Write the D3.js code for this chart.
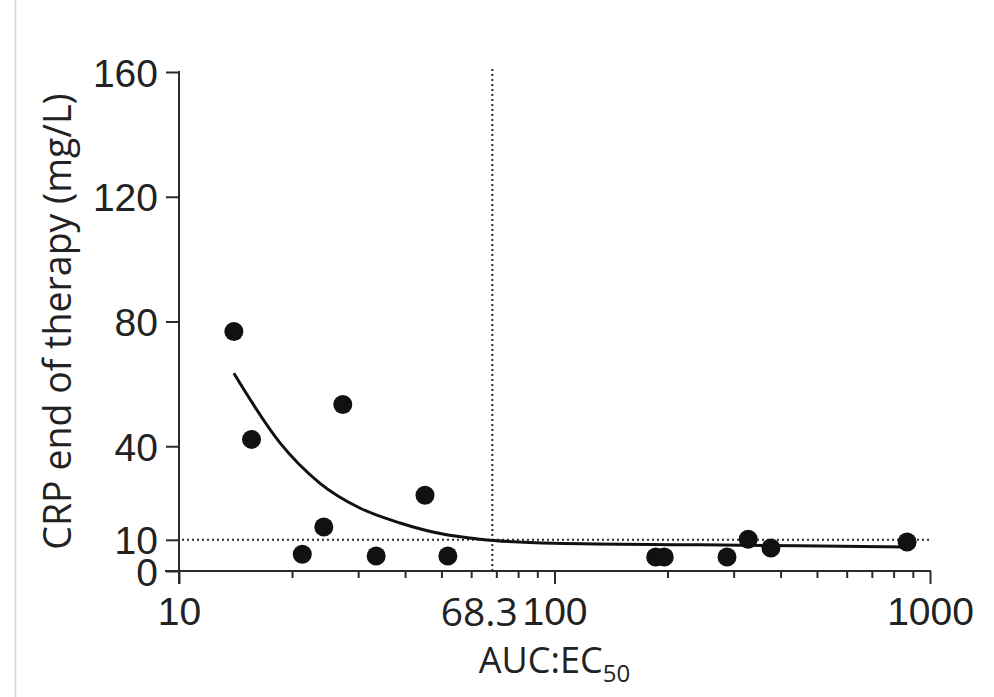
<!DOCTYPE html>
<html>
<head>
<meta charset="utf-8">
<script src="https://cdn.jsdelivr.net/npm/d3@7"></script>
<style>
  html, body { margin: 0; padding: 0; background: #fff; }
  svg { display: block; font-family: "Open Sans", sans-serif; }
</style>
</head>
<body>
<svg id="chart" width="994" height="697"></svg>
<script>
// Observed points (AUC:EC50, CRP end of therapy mg/L)
const aucValues = [14.0, 15.6, 21.3, 24.3, 27.3, 33.5, 45.2, 52.0, 186, 196, 288, 328, 377, 869];
const crpValues = [76.8, 42.2, 5.4, 14.1, 53.4, 4.8, 24.3, 4.8, 4.5, 4.5, 4.5, 10.2, 7.4, 9.3];

// Fitted curve
const curveAuc = [14.0, 18.6, 23.7, 30.3, 38.8, 49.6, 63.3, 100, 244, 867];
const curveCrp = [63.4, 41.0, 28.2, 20.2, 15.4, 12.0, 10.2, 8.9, 8.4, 7.7];

// Axes
const xTickMajor = [10, 100, 1000];
const xTickMinor = [20, 30, 40, 50, 60, 70, 80, 90, 200, 300, 400, 500, 600, 700, 800, 900];
const yTicks = [0, 10, 40, 80, 120, 160];
const cutoffAuc = 68.3;
const cutoffCrp = 10;
const cutoffLabel = "68.3";

const svg = d3.select("#chart");
const x = d3.scaleLog().domain([10, 1000]).range([179, 930]);
const y = d3.scaleLinear().domain([0, 160]).range([571, 72]);
const ink = "#2b2b2b";

// faint border line at left
svg.append("line").attr("x1", 15.5).attr("x2", 15.5).attr("y1", 0).attr("y2", 697)
  .attr("stroke", "#d6d6d6").attr("stroke-width", 1.5);

// Y axis
const yAxis = svg.append("g").attr("transform", `translate(${x(10)},0)`)
  .call(d3.axisLeft(y).tickValues(yTicks).tickSize(13).tickSizeOuter(0).tickFormat(d3.format("d")));
yAxis.select(".domain").remove();
yAxis.selectAll(".tick line").attr("stroke", ink).attr("stroke-width", 2);
yAxis.selectAll(".tick text").attr("font-size", 39).attr("fill", "#222").attr("dy", "0.36em").attr("x", -21);
svg.append("line").attr("x1", x(10)).attr("x2", x(10)).attr("y1", y(160) - 1).attr("y2", y(0) + 13)
  .attr("stroke", ink).attr("stroke-width", 2);

// X axis
const xAxisG = svg.append("g").attr("transform", `translate(0,${y(0)})`);
xAxisG.append("line").attr("x1", x(10) - 14).attr("x2", x(1000) + 1).attr("y1", 0).attr("y2", 0)
  .attr("stroke", ink).attr("stroke-width", 2);
const major = xAxisG.append("g").call(d3.axisBottom(x).tickValues(xTickMajor).tickSize(13).tickPadding(14).tickFormat(d3.format("d")));
major.select(".domain").remove();
major.selectAll(".tick line").attr("stroke", ink).attr("stroke-width", 2);
major.selectAll(".tick text").attr("font-size", 39).attr("fill", "#222").attr("dy", "0.68em");
const minor = xAxisG.append("g").call(d3.axisBottom(x).tickValues(xTickMinor).tickSize(7).tickFormat(""));
minor.select(".domain").remove();
minor.selectAll(".tick line").attr("stroke", ink).attr("stroke-width", 2);

// cutoff label
svg.append("text").attr("x", x(cutoffAuc) - 13).attr("y", 626)
  .attr("text-anchor", "middle").attr("font-size", 39).attr("fill", "#222").text(cutoffLabel);

// dotted reference lines
svg.append("line").attr("x1", x(cutoffAuc)).attr("x2", x(cutoffAuc)).attr("y1", y(160) - 3).attr("y2", y(0))
  .attr("stroke", ink).attr("stroke-width", 2).attr("stroke-dasharray", "2,3");
svg.append("line").attr("x1", x(10) + 3).attr("x2", x(1000)).attr("y1", y(cutoffCrp)).attr("y2", y(cutoffCrp))
  .attr("stroke", ink).attr("stroke-width", 2).attr("stroke-dasharray", "2,3");

// fitted curve
const curveData = curveAuc.map((a, i) => [a, curveCrp[i]]);
svg.append("path").datum(curveData)
  .attr("d", d3.line().x(d => x(d[0])).y(d => y(d[1])).curve(d3.curveMonotoneX))
  .attr("fill", "none").attr("stroke", "#111").attr("stroke-width", 3);

// points
svg.append("g").selectAll("circle").data(aucValues.map((a, i) => [a, crpValues[i]])).join("circle")
  .attr("cx", d => x(d[0])).attr("cy", d => y(d[1])).attr("r", 9.5).attr("fill", "#111");

// axis titles
const xt = svg.append("text").attr("x", x(100)).attr("y", 673).attr("text-anchor", "middle")
  .attr("font-size", 36).attr("fill", "#222");
xt.append("tspan").text("AUC:EC");
xt.append("tspan").attr("font-size", 24).attr("dy", 9).text("50");

svg.append("text").attr("transform", `translate(71,${(y(0)+y(160))/2}) rotate(-90)`)
  .attr("text-anchor", "middle").attr("font-size", 37.5).attr("fill", "#222")
  .text("CRP end of therapy (mg/L)");
</script>
</body>
</html>
